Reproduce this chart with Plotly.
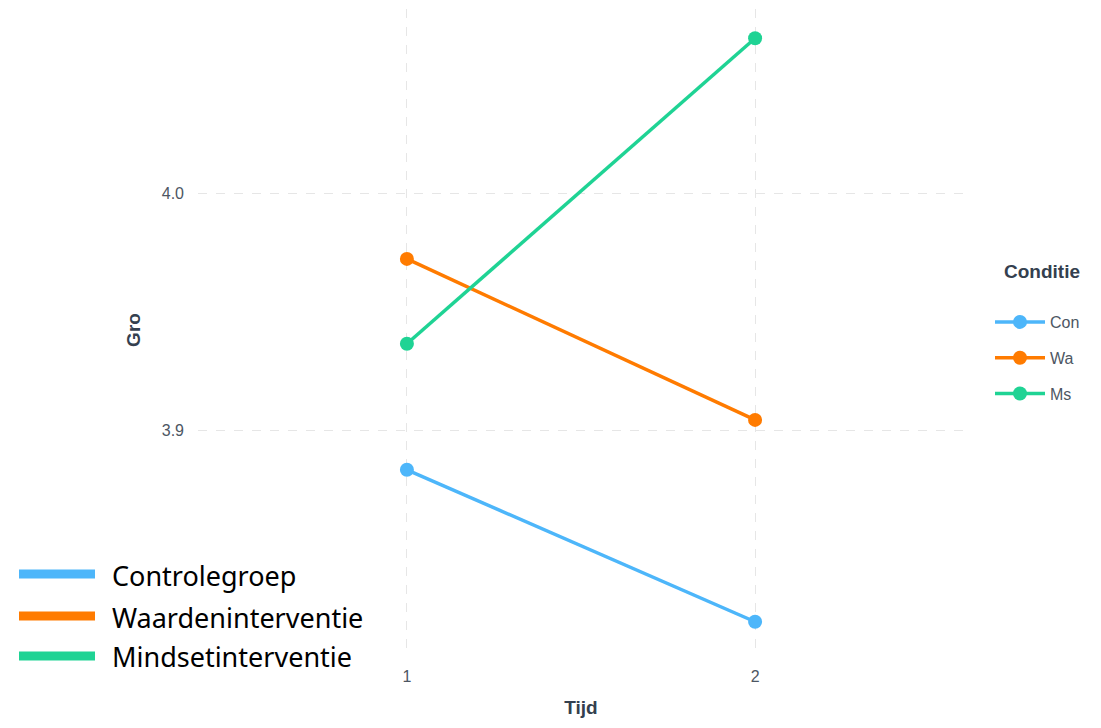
import plotly.graph_objects as go

tijd = [1, 2]
groups = ["Con", "Wa", "Ms"]
values = {
    "Con": [3.8836, 3.8197],
    "Wa": [3.9723, 3.9046],
    "Ms": [3.9366, 4.0651],
}
colors = {"Con": "#4db6fa", "Wa": "#ff7b00", "Ms": "#1fd394"}
labels_nl = ["Controlegroep", "Waardeninterventie", "Mindsetinterventie"]
y_ticks = [3.9, 4.0]

fig = go.Figure()
for g in groups:
    fig.add_trace(go.Scatter(
        x=tijd, y=values[g], name=g, mode="lines+markers",
        legendgroup=g,
        line=dict(color=colors[g], width=3.5),
        marker=dict(color=colors[g], size=14),
    ))

# page body has an 8px margin: work in screen pixels and shift by OFF
OFF = 8
W, H = 1101, 728
ml, mt = 198 - OFF, 9 - OFF
pw, ph = 766, 642
mr = W - ml - pw
mb = H - mt - ph

def px(x):
    return (x - OFF - ml) / pw

def py(y):
    return (mt + ph - (y - OFF)) / ph

shapes = []
annotations = []
for lab, g, ly in zip(labels_nl, groups, [574, 616, 656]):
    shapes.append(dict(type="line", xref="paper", yref="paper",
                       x0=px(19), x1=px(95), y0=py(ly), y1=py(ly),
                       line=dict(color=colors[g], width=9)))
    annotations.append(dict(text=lab, xref="paper", yref="paper",
                            x=px(110), y=py(ly + 1), xanchor="left", yanchor="middle",
                            showarrow=False,
                            font=dict(family="Noto Sans", size=27, color="#000000")))

annotations.append(dict(text="<b>Conditie</b>", xref="paper", yref="paper",
                        x=px(1042), y=py(271), xanchor="center", yanchor="middle",
                        showarrow=False,
                        font=dict(family="Liberation Sans, Arial", size=19, color="#34404f")))

grid = dict(showgrid=True, gridcolor="#e6e6e6", gridwidth=1, griddash="dash",
            zeroline=False, showline=False)

fig.update_layout(
    width=W, height=H,
    margin=dict(l=ml, r=mr, t=mt, b=mb),
    paper_bgcolor="white", plot_bgcolor="white",
    font=dict(family="Liberation Sans, Arial", color="#4d5663", size=16),
    xaxis=dict(range=[0.4, 2.6], tickvals=tijd, ticktext=["1", "2"],
               ticklabelstandoff=14,
               title=dict(text="<b>Tijd</b>", font=dict(size=19, color="#34404f"), standoff=16),
               **grid),
    yaxis=dict(range=[3.8074, 4.0774], tickvals=y_ticks, ticktext=["3.9", "4.0"],
               ticklabelstandoff=13,
               title=dict(text="<b>Gro</b>", font=dict(size=19, color="#34404f"), standoff=16),
               **grid),
    legend=dict(x=px(990), y=py(305), xanchor="left", yanchor="top",
                font=dict(size=16, color="#4d5663"),
                itemwidth=50,
                tracegroupgap=12, bgcolor="rgba(0,0,0,0)"),
    shapes=shapes,
    annotations=annotations,
)

fig.write_html("out.html")
